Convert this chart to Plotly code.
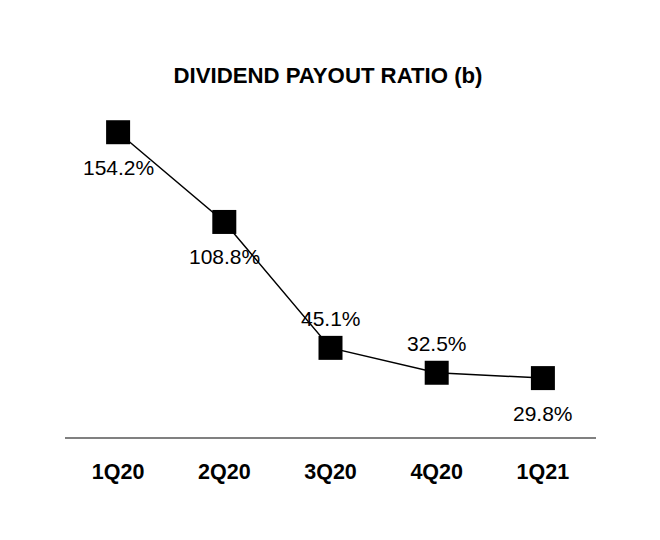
import plotly.graph_objects as go

quarters = ["1Q20", "2Q20", "3Q20", "4Q20", "1Q21"]
payout = [154.2, 108.8, 45.1, 32.5, 29.8]
label_pos = ["below", "below", "above", "above", "below"]

FONT = "Liberation Sans, Arial"

fig = go.Figure()

fig.add_trace(go.Scatter(
    x=quarters,
    y=payout,
    mode="lines+markers",
    line=dict(color="black", width=1.5),
    marker=dict(symbol="square", size=24, color="black"),
    showlegend=False,
    hoverinfo="skip"
))

for q, v, p in zip(quarters, payout, label_pos):
    fig.add_annotation(
        x=q, y=v,
        text="{:.1f}%".format(v),
        showarrow=False,
        yshift=-35 if p == "below" else 29,
        font=dict(family=FONT, size=21, color="black")
    )

# page is drawn with an 8px offset, margins compensate
fig.update_layout(
    width=660,
    height=540,
    margin=dict(l=57, r=72, t=92, b=111),
    paper_bgcolor="white",
    plot_bgcolor="white",
    title=dict(
        text="<b>DIVIDEND PAYOUT RATIO (b)</b>",
        x=320 / 660, xanchor="center",
        y=1 - 67 / 540, yanchor="middle",
        font=dict(family=FONT, size=22.2, color="black")
    ),
    font=dict(family=FONT, color="black")
)

fig.update_xaxes(
    type="category",
    range=[-0.5, 4.5],
    showline=True,
    linecolor="#808080",
    linewidth=2,
    showgrid=False,
    ticks="",
    ticklabelstandoff=14,
    tickfont=dict(family=FONT, size=21.5, color="black", weight="bold")
)
fig.update_yaxes(
    range=[0, 170.5],
    visible=False,
    showgrid=False,
    zeroline=False
)

fig.write_html("out.html")
